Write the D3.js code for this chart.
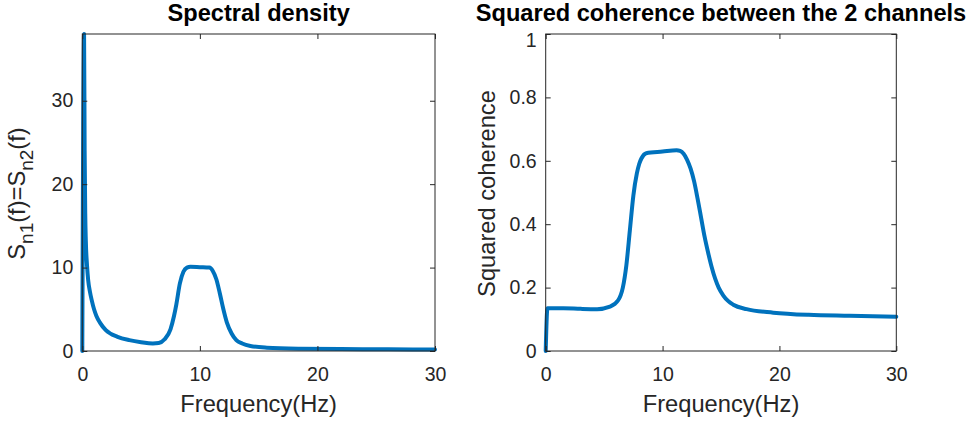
<!DOCTYPE html>
<html>
<head>
<meta charset="utf-8">
<script src="https://cdn.jsdelivr.net/npm/d3@7"></script>
<style>
  html, body { margin: 0; padding: 0; background: #fff; }
  svg { display: block; }
  text { font-family: "Liberation Sans", Arial, Helvetica, sans-serif; }
</style>
</head>
<body>
<svg id="fig" width="972" height="421"></svg>
<script>
// Spectral density of each channel (identical for both), by frequency in Hz
const freqSpec = [0, 0.15, 0.2, 0.25, 0.3, 0.4, 0.5, 0.65, 0.8, 1.0, 1.2, 1.5, 2.0, 3.0, 4.0, 5.0, 6.0, 6.5, 7.0, 7.5, 7.8, 8.0, 8.3, 8.6, 8.9, 9.2, 10.0, 10.8, 11.1, 11.4, 11.7, 12.0, 12.3, 12.7, 13.1, 13.6, 14.3, 15.7, 18.5, 22, 26, 30];
const spectralDensity = [0, 38, 24, 16.5, 13.2, 10.3, 8.5, 7.1, 6.1, 5.0, 4.2, 3.4, 2.5, 1.7, 1.3, 1.05, 0.9, 0.95, 1.4, 2.6, 4.2, 5.6, 8.1, 9.5, 10.0, 10.1, 10.05, 10.0, 9.6, 8.6, 6.9, 5.0, 3.4, 2.1, 1.3, 0.9, 0.6, 0.4, 0.28, 0.24, 0.2, 0.17];

// Squared coherence between the two channels
const freqCoh = [0, 0.15, 1.5, 3.0, 4.4, 5.5, 6.2, 6.6, 6.9, 7.2, 7.5, 7.8, 8.0, 8.2, 8.6, 10.0, 11.2, 11.5, 11.8, 12.1, 12.4, 12.7, 13.0, 13.3, 13.6, 13.9, 14.2, 14.5, 14.8, 15.2, 15.6, 16.05, 17.19, 19.47, 22.5, 26, 30];
const coherence = [0, 0.135, 0.135, 0.133, 0.132, 0.14, 0.16, 0.2, 0.27, 0.38, 0.49, 0.56, 0.59, 0.608, 0.624, 0.629, 0.633, 0.631, 0.622, 0.603, 0.575, 0.535, 0.48, 0.42, 0.36, 0.31, 0.265, 0.228, 0.2, 0.175, 0.158, 0.146, 0.132, 0.121, 0.114, 0.111, 0.108];

// Tick values
const freqTicks = [0, 10, 20, 30];
const specTicks = [0, 10, 20, 30];
const cohTicks = [0, 0.2, 0.4, 0.6, 0.8, 1];

const svg = d3.select("#fig");
const axisColor = "#262626";
const lineColor = "#0072BD";
const tickFont = 19.5;
const labelFont = 23.7;
const subFont = 19;
const titleFont = 23.6;
const tickLen = 5;

function panel(opts) {
  const { x0, x1, y0, y1, xs, ys, xTicks, yTicks, yFmt, title, drawYLabel, ylabelX } = opts;
  const g = svg.append("g");
  const x = d3.scaleLinear().domain([0, 30]).range([x0, x1]);
  const y = d3.scaleLinear().domain(opts.yDomain).range([y1, y0]);

  // data curve
  const pts = xs.map((f, i) => [f, ys[i]]);
  g.append("path")
    .datum(pts)
    .attr("fill", "none")
    .attr("stroke", lineColor)
    .attr("stroke-width", 4)
    .attr("stroke-linejoin", "round")
    .attr("stroke-linecap", "round")
    .attr("d", d3.line().x(d => x(d[0])).y(d => y(d[1])).curve(d3.curveMonotoneX));

  // axes with inward ticks on all four sides
  const styleAxis = sel => {
    sel.select(".domain").remove();
    sel.selectAll(".tick line").attr("stroke", axisColor).attr("stroke-width", 1);
    sel.selectAll(".tick text").attr("fill", axisColor).attr("font-size", tickFont)
      .attr("font-family", "Liberation Sans, Arial, sans-serif");
  };
  g.append("g").attr("transform", `translate(0,${y1})`)
    .call(d3.axisBottom(x).tickValues(xTicks).tickSizeInner(-tickLen).tickSizeOuter(0).tickPadding(16).tickFormat(d3.format("d")))
    .call(styleAxis);
  g.append("g").attr("transform", `translate(0,${y0})`)
    .call(d3.axisTop(x).tickValues(xTicks).tickSizeInner(-tickLen).tickSizeOuter(0).tickFormat(""))
    .call(styleAxis);
  const yAxis = g.append("g").attr("transform", `translate(${x0},0)`)
    .call(d3.axisLeft(y).tickValues(yTicks).tickSizeInner(-tickLen).tickSizeOuter(0).tickPadding(9).tickFormat(yFmt))
    .call(styleAxis);
  // the label of a tick sitting on the upper limit is nudged below the box edge
  const top = opts.yDomain[1];
  yAxis.selectAll(".tick").filter(d => Math.abs(d - top) < 1e-9)
    .select("text").attr("dy", "0.62em");
  g.append("g").attr("transform", `translate(${x1},0)`)
    .call(d3.axisRight(y).tickValues(yTicks).tickSizeInner(-tickLen).tickSizeOuter(0).tickFormat(""))
    .call(styleAxis);

  // box
  g.append("rect")
    .attr("x", x0).attr("y", y0)
    .attr("width", x1 - x0).attr("height", y1 - y0)
    .attr("fill", "none").attr("stroke", axisColor).attr("stroke-width", 1);

  // title
  g.append("text")
    .attr("x", (x0 + x1) / 2).attr("y", 21)
    .attr("text-anchor", "middle")
    .attr("font-weight", "bold").attr("font-size", titleFont).attr("fill", "#000")
    .text(title);

  // x label
  g.append("text")
    .attr("x", (x0 + x1) / 2).attr("y", 411.5)
    .attr("text-anchor", "middle")
    .attr("font-size", labelFont).attr("fill", axisColor)
    .text("Frequency(Hz)");

  // y label
  const yl = g.append("text")
    .attr("transform", `translate(${ylabelX},${(y0 + y1) / 2 + 1}) rotate(-90)`)
    .attr("text-anchor", "middle")
    .attr("font-size", labelFont).attr("fill", axisColor);
  drawYLabel(yl);
}

panel({
  x0: 82.3, x1: 435, y0: 34, y1: 351,
  xs: freqSpec, ys: spectralDensity,
  yDomain: [0, d3.max(spectralDensity)],
  xTicks: freqTicks, yTicks: specTicks, yFmt: d3.format("d"),
  title: "Spectral density",
  ylabelX: 25,
  drawYLabel: t => {
    t.append("tspan").text("S");
    t.append("tspan").attr("font-size", subFont).attr("dy", 8).text("n1");
    t.append("tspan").attr("dy", -8).text("(f)=S");
    t.append("tspan").attr("font-size", subFont).attr("dy", 8).text("n2");
    t.append("tspan").attr("dy", -8).text("(f)");
  }
});

panel({
  x0: 545.7, x1: 896.3, y0: 34, y1: 351,
  xs: freqCoh, ys: coherence,
  yDomain: [0, 1],
  xTicks: freqTicks, yTicks: cohTicks, yFmt: d => d3.format("")(+d.toFixed(1)),
  title: "Squared coherence between the 2 channels",
  ylabelX: 495,
  drawYLabel: t => t.text("Squared coherence")
});
</script>
</body>
</html>
